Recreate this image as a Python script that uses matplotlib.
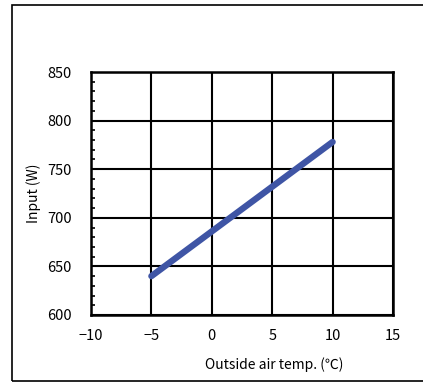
import matplotlib.pyplot as plt
from matplotlib.patches import Rectangle
from matplotlib.ticker import MultipleLocator

plt.rcParams['font.family'] = ['Noto Sans CJK JP', 'DejaVu Sans']

temp = [-5, 10]
power = [640, 778]
x_ticks = [-10, -5, 0, 5, 10, 15]
y_ticks = [600, 650, 700, 750, 800, 850]

fig = plt.figure(figsize=(4.23, 3.83), dpi=100)
ax = fig.add_axes([91 / 423, 1 - 315 / 383, 302 / 423, 243 / 383])

ax.plot(temp, power, color='#3f55a5', lw=4.6, solid_capstyle='round', zorder=3)

ax.set_xlim(-10, 15)
ax.set_ylim(600, 850)
ax.set_xticks(x_ticks)
ax.set_yticks(y_ticks)
ax.set_xticklabels(['\u221210', '\u22125', '0', '5', '10', '15'])
ax.yaxis.set_minor_locator(MultipleLocator(10))
ax.grid(True, color='black', lw=1.5)
for s in ax.spines.values():
    s.set_linewidth(1.8)
ax.tick_params(axis='x', which='major', length=0, pad=10, labelsize=10.5)
ax.tick_params(axis='y', which='major', direction='in', length=0, pad=14, labelsize=10.5)
ax.tick_params(axis='y', which='minor', direction='in', length=3, width=1.2)

ax.set_ylabel('Input (W)', fontsize=10, labelpad=4)
fig.text(274 / 423, 1 - 365 / 383, 'Outside air temp. (\u2103)', fontsize=10,
         ha='center', va='center')

# outer frame, right side runs off the picture
fig.patches.append(Rectangle((12 / 423, 2 / 383), 2.0, 376 / 383, transform=fig.transFigure,
                             fill=False, edgecolor='black', lw=1.2))

fig.savefig('out.png', dpi=100)
